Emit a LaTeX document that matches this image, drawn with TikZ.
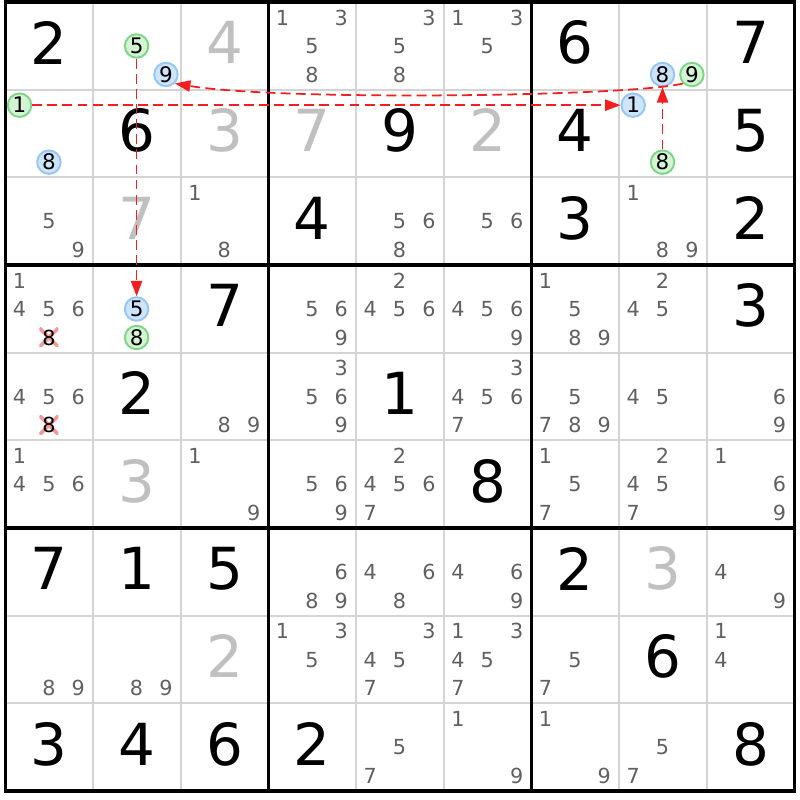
\documentclass[tikz,border=0pt]{standalone}
\usepackage{fontspec}
\setmainfont{DejaVu Sans}
\usetikzlibrary{arrows.meta}
\definecolor{gridgray}{RGB}{212,212,212}
\definecolor{shown}{RGB}{192,192,192}
\definecolor{candgray}{RGB}{96,96,96}
\definecolor{linkred}{RGB}{245,30,30}
\definecolor{onfill}{RGB}{212,244,212}
\definecolor{ondraw}{RGB}{125,214,135}
\definecolor{offfill}{RGB}{206,228,250}
\definecolor{offdraw}{RGB}{150,198,245}
\definecolor{elimpink}{RGB}{245,150,150}

\begin{document}
\begin{tikzpicture}[x=0.8767cm, y=0.8767cm, >={Triangle[length=4.4pt,width=3.2pt]},
  given/.style={font=\fontsize{16.5}{18}\selectfont, inner sep=0pt},
  hint/.style={given, text=shown},
  cand/.style={font=\fontsize{5.9}{7}\selectfont, text=candgray, inner sep=0pt},
  oncand/.style={circle, draw=ondraw, fill=onfill, line width=0.55pt, minimum size=0.235cm,
    inner sep=0pt, font=\fontsize{6.1}{7}\selectfont},
  offcand/.style={oncand, draw=offdraw, fill=offfill},
  elim/.style={cand, text=black, minimum size=0.19cm,
    path picture={\draw[elimpink, line width=1pt]
      (path picture bounding box.north west) -- (path picture bounding box.south east)
      (path picture bounding box.south west) -- (path picture bounding box.north east);}},
  link/.style={linkred, line width=0.5pt, dash pattern=on 2.8pt off 1.5pt}]
    % Margens da figura
    \useasboundingbox (-0.063,-0.097) rectangle (9.063,9.023);
    % Draw grid: first the thin lines, then the boxes
    \foreach \i in {1,...,8} {
        \draw[gridgray, line width=0.6pt] (\i,0) -- (\i,9);
        \draw[gridgray, line width=0.6pt] (0,\i) -- (9,\i);
    }
    \foreach \i in {0,3,6,9} {
        \draw[line width=0.9pt] (\i,-0.015) -- (\i,9.015);
        \draw[line width=0.9pt] (-0.015,\i) -- (9.015,\i);
    }
    % Given digits (black) and solved digits (gray)
    \foreach \r/\c/\d in {1/1/2, 1/7/6, 1/9/7, 2/2/6, 2/5/9, 2/7/4, 2/9/5, 3/4/4, 3/7/3,
        3/9/2, 4/3/7, 4/9/3, 5/2/2, 5/5/1, 6/6/8, 7/1/7, 7/2/1, 7/3/5, 7/7/2, 8/8/6,
        9/1/3, 9/2/4, 9/3/6, 9/4/2, 9/9/8}
        \node[given] (v\r\c) at (\c-0.5, 9.535-\r) {\d};
    \foreach \r/\c/\d in {1/3/4, 2/3/3, 2/4/7, 2/6/2, 3/2/7, 6/2/3, 7/8/3, 8/3/2}
        \node[hint] (v\r\c) at (\c-0.5, 9.535-\r) {\d};
    % Candidates
    \foreach \r/\c/\ds in {1/4/{1,3,5,8}, 1/5/{3,5,8}, 1/6/{1,3,5},
        3/1/{5,9}, 3/3/{1,8}, 3/5/{5,6,8}, 3/6/{5,6}, 3/8/{1,8,9},
        4/1/{1,4,5,6}, 4/4/{5,6,9}, 4/5/{2,4,5,6}, 4/6/{4,5,6,9}, 4/7/{1,5,8,9}, 4/8/{2,4,5},
        5/1/{4,5,6}, 5/3/{8,9}, 5/4/{3,5,6,9}, 5/6/{3,4,5,6,7}, 5/7/{5,7,8,9}, 5/8/{4,5}, 5/9/{6,9},
        6/1/{1,4,5,6}, 6/3/{1,9}, 6/4/{5,6,9}, 6/5/{2,4,5,6,7}, 6/7/{1,5,7}, 6/8/{2,4,5,7}, 6/9/{1,6,9},
        7/4/{6,8,9}, 7/5/{4,6,8}, 7/6/{4,6,9}, 7/9/{4,9},
        8/1/{8,9}, 8/2/{8,9}, 8/4/{1,3,5}, 8/5/{3,4,5,7}, 8/6/{1,3,4,5,7}, 8/7/{5,7}, 8/9/{1,4},
        9/5/{5,7}, 9/6/{1,9}, 9/7/{1,9}, 9/8/{5,7}}
        \foreach \d in \ds
            \node[cand] (c\r\c\d) at ({\c-1+0.16+0.335*mod(\d-1,3)}, {10-\r-0.177-0.325*int((\d-1)/3)}) {\d};
    % Marked candidates of the chain
    \node[oncand] (five12) at (1.495,8.498) {5};
    \node[offcand] (nine12) at (1.83,8.173) {9};
    \node[oncand] (one21) at (0.16,7.823) {1};
    \node[offcand] (eight21) at (0.495,7.173) {8};
    \node[offcand] (eight18) at (7.495,8.173) {8};
    \node[oncand] (nine18) at (7.83,8.173) {9};
    \node[offcand] (one28) at (7.16,7.823) {1};
    \node[oncand] (eight28) at (7.495,7.173) {8};
    \node[offcand] (five42) at (1.495,5.498) {5};
    \node[oncand] (eight42) at (1.495,5.173) {8};
    % Eliminated candidates
    \node[elim] (x41) at (0.495,5.173) {8};
    \node[elim] (x51) at (0.495,4.173) {8};
    % Links
    \draw[link,->] (five12) -- (five42);
    \draw[link,->] (one21) -- (one28);
    \draw[link,->] (eight28) -- (eight18);
    \draw[link,->] (nine18.south west) .. controls +(-0.6,-0.15) and +(1.2,-0.2) .. (nine12.south east);
\end{tikzpicture}
\end{document}
